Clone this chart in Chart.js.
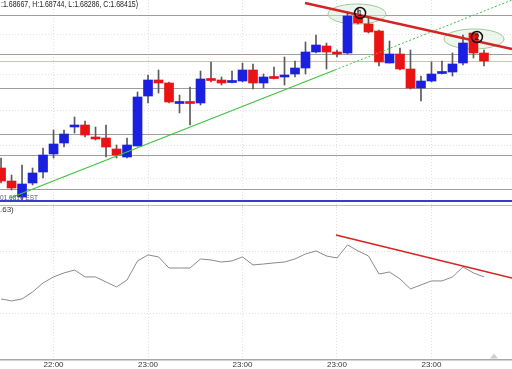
<!DOCTYPE html>
<html>
<head>
<meta charset="utf-8">
<script src="https://cdn.jsdelivr.net/npm/chart.js@4.4.1/dist/chart.umd.min.js"></script>
<style>
  html, body { margin: 0; padding: 0; background: #fff; }
  #wrap { position: relative; width: 512px; height: 369px; overflow: hidden; }
  #price { position: absolute; left: 0; top: 0; }
  #osc { position: absolute; left: 0; top: 206px; }
</style>
</head>
<body>
<div id="wrap">
  <canvas id="osc" width="512" height="165"></canvas>
  <canvas id="price" width="512" height="208"></canvas>
</div>
<script>
// candles, one per bar slot
const opens = [1.68128, 1.68076, 1.68012, 1.68068, 1.68112, 1.68184, 1.68228, 1.68292, 1.68300, 1.68252,
  1.68248, 1.68204, 1.68172, 1.68216, 1.68416, 1.68480, 1.68468, 1.68386, 1.68394, 1.68388,
  1.68486, 1.68480, 1.68470, 1.68476, 1.68520, 1.68468, 1.68494, 1.68492, 1.68504, 1.68528,
  1.68592, 1.68616, 1.68592, 1.68588, 1.68736, 1.68704, 1.68676, 1.68548, 1.68584, 1.68524,
  1.68448, 1.68476, 1.68506, 1.68512, 1.68548, 1.68668, 1.68588];
const highs = [1.68168, 1.68100, 1.68140, 1.68128, 1.68208, 1.68280, 1.68280, 1.68332, 1.68316, 1.68292,
  1.68300, 1.68220, 1.68248, 1.68432, 1.68500, 1.68520, 1.68472, 1.68420, 1.68452, 1.68516,
  1.68552, 1.68492, 1.68516, 1.68548, 1.68544, 1.68504, 1.68532, 1.68572, 1.68556, 1.68632,
  1.68660, 1.68628, 1.68600, 1.68752, 1.68768, 1.68728, 1.68680, 1.68636, 1.68608, 1.68600,
  1.68496, 1.68552, 1.68556, 1.68588, 1.68660, 1.68672, 1.68600];
const lows = [1.68068, 1.68040, 1.68000, 1.68060, 1.68088, 1.68168, 1.68212, 1.68268, 1.68252, 1.68240,
  1.68172, 1.68168, 1.68168, 1.68216, 1.68388, 1.68428, 1.68388, 1.68348, 1.68300, 1.68380,
  1.68472, 1.68460, 1.68468, 1.68472, 1.68444, 1.68448, 1.68484, 1.68460, 1.68492, 1.68504,
  1.68588, 1.68524, 1.68572, 1.68584, 1.68704, 1.68668, 1.68536, 1.68548, 1.68520, 1.68444,
  1.68396, 1.68472, 1.68504, 1.68496, 1.68540, 1.68568, 1.68536];
const closes = [1.68076, 1.68048, 1.68064, 1.68108, 1.68180, 1.68224, 1.68264, 1.68300, 1.68260, 1.68244,
  1.68212, 1.68180, 1.68220, 1.68412, 1.68480, 1.68468, 1.68392, 1.68394, 1.68386, 1.68484,
  1.68478, 1.68468, 1.68478, 1.68520, 1.68468, 1.68492, 1.68486, 1.68500, 1.68528, 1.68592,
  1.68620, 1.68592, 1.68584, 1.68736, 1.68708, 1.68672, 1.68552, 1.68584, 1.68524, 1.68448,
  1.68476, 1.68504, 1.68514, 1.68544, 1.68628, 1.68588, 1.68556];

// oscillator in the lower pane
const rsi = [39.3, 38.0, 39.3, 43.8, 49.7, 53.6, 56.2, 58.1, 53.6, 53.6,
  50.3, 47.1, 51.6, 64.0, 67.9, 66.6, 59.4, 59.4, 59.4, 65.3,
  64.6, 63.3, 64.0, 66.6, 61.4, 62.0, 62.7, 63.3, 65.3, 68.5,
  70.5, 67.2, 65.9, 74.4, 70.5, 67.2, 55.5, 56.8, 52.3, 45.8,
  48.4, 51.0, 51.0, 53.6, 60.1, 56.2, 53.6];

const timeTicks = [5, 14, 23, 32, 41];
const timeLabels = ['22:00', '23:00', '23:00', '23:00', '23:00'];

const greyLevels = [1.68740, 1.68584, 1.68448, 1.68264, 1.68180, 1.68044];
const tanLevel = 1.68556;
const blueLevel = 1.67996;
const priceGrid = [1.68660, 1.68500, 1.68360, 1.68220, 1.68088];
const rsiGrid = [30, 70];

const supportLine = [{ x: 0.86, y: 1.68008 }, { x: 31.8, y: 1.68520 }];
const supportExt = [{ x: 31.8, y: 1.68520 }, { x: 48.67, y: 1.68800 }];
const resistLine = [{ x: 28.95, y: 1.68788 }, { x: 48.67, y: 1.68604 }];
const rsiTrend = [{ x: 31.9, y: 80.8 }, { x: 48.67, y: 52.9 }];

const topZones = [{ x: 33.9, y: 1.68744, rx: 2.76, ry: 0.0004 }, { x: 45.05, y: 1.68644, rx: 2.86, ry: 0.0004 }];
const topMarks = [{ x: 34.2, y: 1.68748, label: '1' }, { x: 45.33, y: 1.68652, label: '2' }];

const xMin = -0.1, xMax = 48.67;
const FONT = '"Liberation Sans", Arial, sans-serif';

const idx = opens.map((_, i) => i);
const bodyColors = idx.map(i => closes[i] >= opens[i] ? '#1b1fe0' : '#ea1212');

const priceDecor = {
  id: 'priceDecor',
  beforeDatasetsDraw(chart) {
    const { ctx, chartArea: a, scales: { x, y } } = chart;
    ctx.save();
    const hline = (v, color, w) => {
      const py = Math.round(y.getPixelForValue(v)) + (w % 2 ? 0.5 : 0);
      ctx.strokeStyle = color;
      ctx.lineWidth = w;
      ctx.beginPath();
      ctx.moveTo(a.left, py);
      ctx.lineTo(a.right, py);
      ctx.stroke();
    };
    greyLevels.forEach(v => hline(v, '#9e9e9e', 1));
    hline(tanLevel, '#dcbcae', 1);
    hline(1.67980, '#bdbdbd', 1);
    hline(blueLevel, '#3a3ad0', 2);

    topZones.forEach(z => {
      const cx = x.getPixelForValue(z.x), cy = y.getPixelForValue(z.y);
      const rx = Math.abs(x.getPixelForValue(z.x + z.rx) - cx);
      const ry = Math.abs(y.getPixelForValue(z.y + z.ry) - cy);
      ctx.beginPath();
      ctx.ellipse(cx, cy, rx, ry, 0, 0, Math.PI * 2);
      ctx.fillStyle = 'rgba(214, 236, 214, 0.45)';
      ctx.fill();
      ctx.strokeStyle = '#9cc99c';
      ctx.lineWidth = 1;
      ctx.stroke();
    });
    ctx.restore();
  },
  afterDatasetsDraw(chart) {
    const { ctx, scales: { x, y } } = chart;
    ctx.save();
    topMarks.forEach(m => {
      const cx = x.getPixelForValue(m.x), cy = y.getPixelForValue(m.y);
      ctx.beginPath();
      ctx.arc(cx, cy, 5.5, 0, Math.PI * 2);
      ctx.strokeStyle = '#111';
      ctx.lineWidth = 1.5;
      ctx.stroke();
      ctx.fillStyle = '#111';
      ctx.font = '9px ' + FONT;
      ctx.textAlign = 'center';
      ctx.textBaseline = 'middle';
      ctx.fillText(m.label, cx, cy + 0.5);
    });

    ctx.fillStyle = '#222';
    ctx.font = '8.5px ' + FONT;
    ctx.textAlign = 'left';
    ctx.textBaseline = 'middle';
    const pre = '(O';
    const head = ':1.68667, H:1.68744, L:1.68286, C:1.68415)';
    ctx.fillText(pre, -ctx.measureText(pre).width * 0.8, 5, ctx.measureText(pre).width * 0.8);
    ctx.fillText(head, 1, 5, 137);
    ctx.font = '7px ' + FONT;
    ctx.fillStyle = '#556';
    ctx.fillText('01.6810 EST', 0, 198, 38);
    ctx.restore();
  }
};

new Chart(document.getElementById('price'), {
  type: 'bar',
  data: {
    datasets: [
      {
        type: 'line',
        data: resistLine,
        borderColor: '#d42424',
        borderWidth: 2.5,
        pointRadius: 0,
        order: 0
      },
      {
        type: 'line',
        data: supportLine,
        borderColor: '#3fc33f',
        borderWidth: 1.2,
        pointRadius: 0,
        order: 1
      },
      {
        type: 'line',
        data: supportExt,
        borderColor: '#3fc33f',
        borderWidth: 1,
        borderDash: [2, 2],
        pointRadius: 0,
        order: 1
      },
      {
        data: idx.map(i => ({ x: i, y: [opens[i], closes[i]] })),
        backgroundColor: bodyColors,
        borderWidth: 0,
        barThickness: 9,
        order: 2
      },
      {
        data: idx.map(i => ({ x: i, y: [lows[i], highs[i]] })),
        backgroundColor: '#5a5a5a',
        borderWidth: 0,
        barThickness: 1,
        order: 3
      }
    ]
  },
  options: {
    responsive: false,
    animation: false,
    grouped: false,
    layout: { padding: 0 },
    plugins: { legend: { display: false }, tooltip: { enabled: false } },
    scales: {
      x: {
        type: 'linear',
        offset: false,
        min: xMin,
        max: xMax,
        afterBuildTicks: s => { s.ticks = timeTicks.map(v => ({ value: v })); },
        ticks: { display: false },
        grid: { color: '#e0e0e0', drawTicks: false, offset: false },
        border: { display: false, dash: [1, 2] }
      },
      y: {
        min: 1.67968,
        max: 1.68800,
        afterBuildTicks: s => { s.ticks = priceGrid.map(v => ({ value: v })); },
        ticks: { display: false },
        grid: { color: '#e0e0e0', drawTicks: false },
        border: { display: false, dash: [1, 2] }
      }
    }
  },
  plugins: [priceDecor]
});

const oscDecor = {
  id: 'oscDecor',
  afterDatasetsDraw(chart) {
    const { ctx, chartArea: a } = chart;
    ctx.save();
    ctx.fillStyle = '#333';
    ctx.font = '8px ' + FONT;
    ctx.textBaseline = 'middle';
    ctx.fillText('.63)', 0, 4);
    ctx.beginPath();
    ctx.moveTo(490, a.bottom - 1);
    ctx.lineTo(494, a.bottom - 6);
    ctx.lineTo(498, a.bottom - 1);
    ctx.closePath();
    ctx.fillStyle = '#d0d0d0';
    ctx.fill();
    ctx.restore();
  }
};

new Chart(document.getElementById('osc'), {
  type: 'line',
  data: {
    datasets: [
      {
        data: rsiTrend,
        borderColor: '#d42424',
        borderWidth: 1.6,
        pointRadius: 0
      },
      {
        data: idx.map(i => ({ x: i, y: rsi[i] })),
        borderColor: '#8a8a8a',
        borderWidth: 1,
        pointRadius: 0,
        tension: 0
      }
    ]
  },
  options: {
    responsive: false,
    animation: false,
    layout: { padding: 0 },
    plugins: { legend: { display: false }, tooltip: { enabled: false } },
    scales: {
      x: {
        type: 'linear',
        min: xMin,
        max: xMax,
        afterBuildTicks: s => { s.ticks = timeTicks.map(v => ({ value: v })); },
        ticks: {
          padding: 1,
          maxRotation: 0,
          color: '#333',
          font: { size: 8, family: FONT },
          callback: v => timeLabels[timeTicks.indexOf(v)]
        },
        grid: { color: '#e0e0e0', drawTicks: false },
        border: { display: true, color: '#a8a8a8', width: 1.5, dash: [1, 2] }
      },
      y: {
        min: 0,
        max: 99.7,
        afterBuildTicks: s => { s.ticks = rsiGrid.map(v => ({ value: v })); },
        ticks: { display: false },
        grid: { color: '#e0e0e0', drawTicks: false },
        border: { display: false, dash: [1, 2] }
      }
    }
  },
  plugins: [oscDecor]
});
</script>
</body>
</html>
